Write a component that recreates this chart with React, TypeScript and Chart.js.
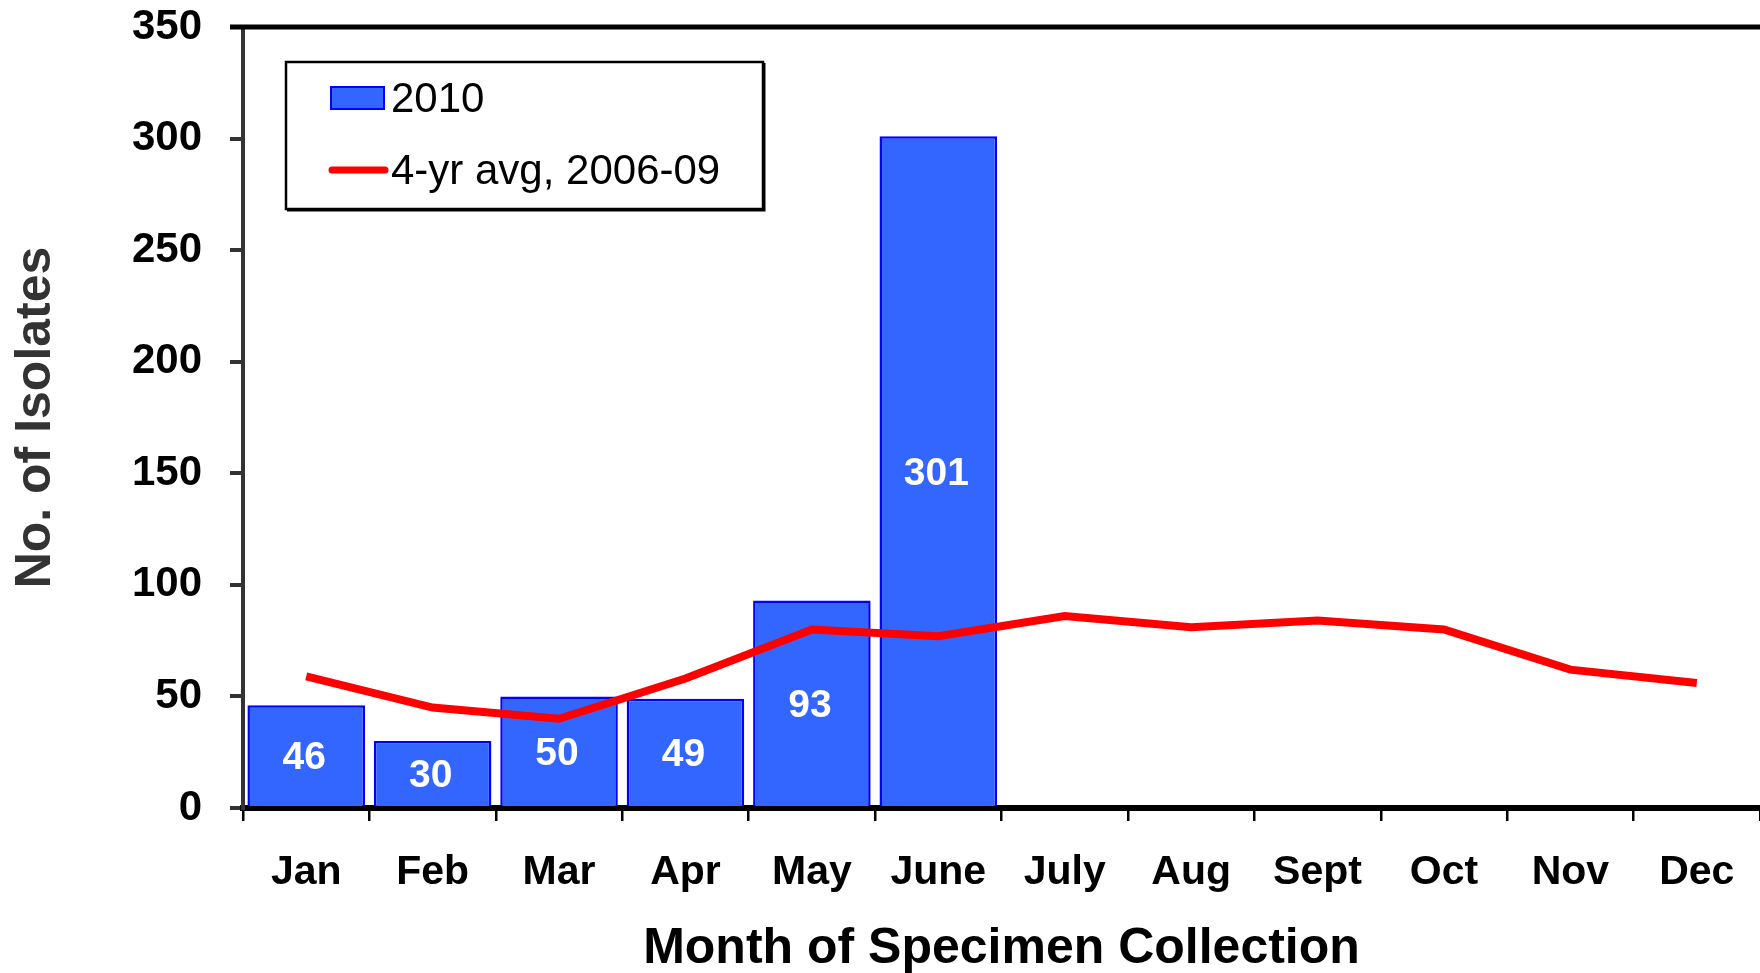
import React, { useEffect, useRef } from "react";
import { Chart, registerables } from "chart.js";

Chart.register(...registerables);

const months = ["Jan", "Feb", "Mar", "Apr", "May", "June", "July", "Aug", "Sept", "Oct", "Nov", "Dec"];
const isolates2010 = [46, 30, 50, 49, 93, 301, null, null, null, null, null, null];
const avg2006to09 = [59, 45, 40, 58, 80, 77, 86, 81, 84, 80, 62, 56];
const barLabel = "2010";
const lineLabel = "4-yr avg, 2006-09";
const yMin = 0;
const yMax = 350;
const yStep = 50;
const xTitle = "Month of Specimen Collection";
const yTitle = "No. of Isolates";

const FONT = "'Liberation Sans', Arial, Helvetica, sans-serif";

const barValueLabels = {
  id: "barValueLabels",
  afterDatasetsDraw(chart: any) {
    const ctx = chart.ctx;
    chart.data.datasets.forEach((ds: any, di: number) => {
      if (ds.type !== "bar") return;
      const meta = chart.getDatasetMeta(di);
      meta.data.forEach((el: any, i: number) => {
        const v = ds.data[i];
        if (v === null || v === undefined) return;
        ctx.save();
        ctx.fillStyle = "#ffffff";
        ctx.font = `bold 39px ${FONT}`;
        ctx.textAlign = "center";
        ctx.textBaseline = "middle";
        ctx.fillText(String(v), el.x - 2, (el.y + el.base) / 2 + 3);
        ctx.restore();
      });
    });
  },
};

const frameAndLegend = {
  id: "frameAndLegend",
  afterDraw(chart: any) {
    const ctx = chart.ctx;
    const a = chart.chartArea;
    // top frame line
    ctx.save();
    ctx.strokeStyle = "#000000";
    ctx.lineWidth = 5;
    ctx.beginPath();
    ctx.moveTo(a.left - 13, a.top);
    ctx.lineTo(a.right, a.top);
    ctx.stroke();
    ctx.restore();

    // legend box
    const bx = a.left + 43;
    const by = a.top + 35;
    const bw = 477;
    const bh = 147;
    ctx.save();
    ctx.fillStyle = "#ffffff";
    ctx.fillRect(bx, by, bw, bh);
    ctx.strokeStyle = "#000000";
    ctx.lineWidth = 2.5;
    ctx.strokeRect(bx, by, bw, bh);
    ctx.lineWidth = 2;
    ctx.beginPath();
    ctx.moveTo(bx + 1, by + bh + 1.5);
    ctx.lineTo(bx + bw + 1.5, by + bh + 1.5);
    ctx.lineTo(bx + bw + 1.5, by + 1);
    ctx.stroke();

    const bar = chart.data.datasets.find((d: any) => d.type === "bar");
    const line = chart.data.datasets.find((d: any) => d.type === "line");
    // bar entry
    const sx = bx + 45;
    const sy = by + 25;
    ctx.fillStyle = bar.backgroundColor;
    ctx.fillRect(sx, sy, 53, 22);
    ctx.strokeStyle = bar.borderColor;
    ctx.lineWidth = 2;
    ctx.strokeRect(sx, sy, 53, 22);
    ctx.fillStyle = "#000000";
    ctx.font = `42px ${FONT}`;
    ctx.textAlign = "left";
    ctx.textBaseline = "middle";
    ctx.fillText(bar.label, bx + 105, sy + 13);
    // line entry
    const ly = by + 108;
    ctx.strokeStyle = line.borderColor;
    ctx.lineWidth = 7;
    ctx.lineCap = "round";
    ctx.beginPath();
    ctx.moveTo(bx + 46, ly);
    ctx.lineTo(bx + 99, ly);
    ctx.stroke();
    ctx.fillText(line.label, bx + 105, ly + 2);
    ctx.restore();
  },
};

export default function App() {
  const ref = useRef<HTMLCanvasElement>(null);

  useEffect(() => {
    if (!ref.current) return;
    const chart = new Chart(ref.current, {
      data: {
        labels: months,
        datasets: [
          {
            type: "line",
            label: lineLabel,
            data: avg2006to09,
            borderColor: "#ff0000",
            backgroundColor: "#ff0000",
            borderWidth: 8,
            pointRadius: 0,
            tension: 0,
            order: 0,
          },
          {
            type: "bar",
            label: barLabel,
            data: isolates2010,
            backgroundColor: "#3366ff",
            borderColor: "#0000ff",
            borderWidth: 2.5,
            barPercentage: 0.93,
            categoryPercentage: 1,
            order: 1,
          },
        ],
      } as any,
      options: {
        animation: false,
        responsive: false,
        maintainAspectRatio: false,
        layout: { padding: { top: 27, right: 0, bottom: 0, left: 0 } },
        plugins: {
          legend: { display: false },
          tooltip: { enabled: false },
        },
        scales: {
          x: {
            offset: true,
            afterFit(scale: any) {
              scale.height = 165;
              scale.paddingLeft = 0;
              scale.paddingRight = 0;
            },
            grid: {
              offset: true,
              drawOnChartArea: false,
              drawTicks: true,
              tickLength: 13,
              tickColor: "#000000",
              lineWidth: 2.5,
            },
            border: { display: true, color: "#000000", width: 6 },
            ticks: {
              color: "#000000",
              font: { family: FONT, size: 41, weight: "bold" },
              padding: 27,
              maxRotation: 0,
              autoSkip: false,
            },
            title: {
              display: true,
              text: xTitle,
              color: "#000000",
              font: { family: FONT, size: 50, weight: "bold" },
              padding: { top: 0, bottom: -6 },
            },
          },
          y: {
            min: yMin,
            max: yMax,
            afterFit(scale: any) {
              scale.width = 243;
              scale.paddingTop = 0;
              scale.paddingBottom = 0;
            },
            grid: {
              drawOnChartArea: false,
              drawTicks: true,
              tickLength: 13,
              tickColor: "#333333",
              lineWidth: 4,
            },
            border: { display: true, color: "#333333", width: 4 },
            ticks: {
              stepSize: yStep,
              color: "#000000",
              font: { family: FONT, size: 42, weight: "bold" },
              padding: 28,
            },
            title: {
              display: true,
              text: yTitle,
              color: "#333333",
              font: { family: FONT, size: 50, weight: "bold" },
              padding: { top: 6, bottom: 0 },
            },
          },
        },
      } as any,
      plugins: [barValueLabels, frameAndLegend],
    });
    return () => chart.destroy();
  }, []);

  return (
    <div style={{ position: "fixed", left: 0, top: 0, width: 1760, height: 973, background: "#ffffff" }}>
      <canvas ref={ref} width={1760} height={973} style={{ width: 1760, height: 973, display: "block" }} />
    </div>
  );
}
